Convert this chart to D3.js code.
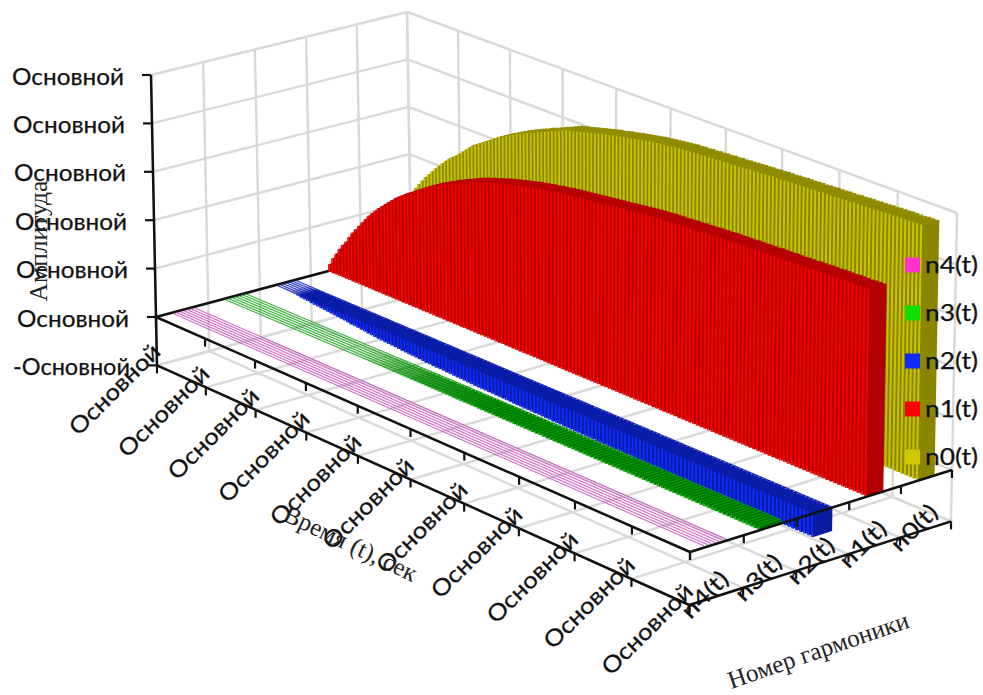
<!DOCTYPE html>
<html><head><meta charset="utf-8">
<script src="https://cdn.jsdelivr.net/npm/d3@7"></script>
<style>html,body{margin:0;background:#fff}svg{display:block}</style></head>
<body><svg id="c" width="983" height="695"></svg>
<script>
const seriesNames=["n4(t)","n3(t)","n2(t)","n1(t)","n0(t)"];
const seriesDrawOrder=["n0(t)","n1(t)","n2(t)","n3(t)","n4(t)"];
const valueTicks=[-1,0,1,2,3,4,5];
const valueLabels=["-Основной","Основной","Основной","Основной","Основной","Основной","Основной"];
const timeLabels=["Основной","Основной","Основной","Основной","Основной","Основной","Основной","Основной","Основной","Основной","Основной"];
const n0=[.20,.38,.55,.70,.84,.98,1.13,1.28,1.40,1.53,1.65,1.77,1.88,1.98,2.08,2.17,2.26,2.35,2.43,2.51,2.59,2.66,2.72,2.78,2.85,2.92,2.99,3.06,3.13,3.18,3.23,3.28,3.33,3.38,3.43,3.48,3.53,3.57,3.61,3.65,3.69,3.73,3.77,3.80,3.84,3.87,3.90,3.94,3.97,4.00,4.03,4.07,4.10,4.13,4.17,4.20,4.22,4.24,4.26,4.28,4.30,4.32,4.34,4.36,4.38,4.40,4.42,4.43,4.45,4.47,4.48,4.50,4.52,4.53,4.55,4.56,4.58,4.59,4.61,4.62,4.63,4.64,4.65,4.66,4.67,4.68,4.69,4.70,4.70,4.71,4.71,4.72,4.72,4.73,4.73,4.74,4.74,4.75,4.75,4.76,4.76,4.77,4.77,4.78,4.78,4.79,4.79,4.80,4.80,4.81,4.81,4.82,4.82,4.82,4.83,4.83,4.84,4.84,4.84,4.85,4.85,4.85,4.86,4.86,4.87,4.87,4.87,4.88,4.88,4.88,4.89,4.89,4.90,4.90,4.90,4.91,4.91,4.91,4.92,4.92,4.93,4.93,4.93,4.94,4.94,4.94,4.94,4.95,4.95,4.95];
const n1=[.15,.30,.42,.55,.66,.76,.88,1.00,1.10,1.20,1.30,1.40,1.50,1.58,1.66,1.74,1.81,1.88,1.95,2.02,2.09,2.15,2.20,2.26,2.31,2.36,2.41,2.46,2.51,2.56,2.61,2.65,2.69,2.73,2.77,2.81,2.84,2.88,2.91,2.95,2.98,3.02,3.05,3.08,3.10,3.13,3.15,3.18,3.20,3.23,3.25,3.27,3.29,3.31,3.33,3.35,3.37,3.39,3.41,3.42,3.44,3.45,3.47,3.48,3.50,3.51,3.52,3.54,3.55,3.56,3.57,3.58,3.59,3.60,3.61,3.62,3.63,3.64,3.65,3.66,3.67,3.68,3.69,3.70,3.71,3.72,3.73,3.74,3.75,3.76,3.77,3.78,3.79,3.79,3.80,3.81,3.81,3.82,3.82,3.83,3.83,3.84,3.84,3.85,3.85,3.86,3.86,3.87,3.87,3.88,3.88,3.89,3.89,3.89,3.90,3.90,3.90,3.91,3.91,3.91,3.92,3.92,3.92,3.93,3.93,3.93,3.93,3.94,3.94,3.94,3.95,3.95,3.95,3.96,3.96,3.96,3.97,3.97,3.97,3.98,3.98,3.98,3.98,3.99,3.99,3.99,3.99,4.00,4.00,4.00];
const n2=[-.005,-.01,-.015,-.02,-.025,-.03,-.04,-.05,-.055,-.06,-.07,-.08,-.085,-.09,-.10,-.105,-.11,-.12,-.125,-.13,-.14,-.15,-.16,-.165,-.17,-.18,-.19,-.20,-.205,-.21,-.22,-.225,-.23,-.235,-.24,-.245,-.25,-.255,-.26,-.265,-.27,-.275,-.28,-.285,-.29,-.29,-.295,-.30,-.30,-.305,-.31,-.31,-.315,-.32,-.32,-.325,-.33,-.33,-.335,-.34,-.34,-.34,-.345,-.345,-.35,-.35,-.35,-.355,-.355,-.36,-.36,-.36,-.365,-.365,-.37,-.37,-.37,-.375,-.375,-.375,-.38,-.38,-.38,-.385,-.385,-.385,-.39,-.39,-.39,-.395,-.395,-.395,-.40,-.40,-.40,-.40,-.405,-.405,-.405,-.41,-.41,-.41,-.41,-.415,-.415,-.42,-.42,-.42,-.42,-.42,-.425,-.425,-.425,-.43,-.43,-.43,-.43,-.43,-.435,-.435,-.435,-.435,-.44,-.44,-.44,-.44,-.44,-.445,-.445,-.445,-.445,-.45,-.45,-.45,-.45,-.45,-.45,-.455,-.455,-.455,-.455,-.455,-.46,-.46,-.46,-.46,-.46,-.46,-.46,-.46];
const n3=[.002,.002,.003,.003,.004,.004,.005,.005,.006,.006,.007,.007,.008,.008,.009,.009,.010,.010,.011,.011,.012,.012,.013,.013,.014,.014,.015,.015,.016,.016,.017,.017,.018,.018,.019,.019,.020,.020,.021,.021,.022,.023,.024,.025,.026,.027,.028,.029,.030,.031,.032,.033,.034,.035,.036,.037,.038,.039,.040,.040,.041,.041,.042,.042,.043,.043,.044,.044,.045,.045,.046,.046,.047,.047,.048,.048,.049,.049,.050,.050,.050,.051,.051,.051,.052,.052,.052,.053,.053,.053,.054,.054,.054,.055,.055,.055,.055,.056,.056,.056,.056,.057,.057,.057,.057,.058,.058,.058,.058,.059,.059,.059,.059,.060,.060,.060,.060,.061,.061,.061,.061,.062,.062,.062,.062,.063,.063,.063,.063,.064,.064,.064,.064,.065,.065,.065,.065,.066,.066,.066,.066,.067,.067,.067,.067,.068,.068,.069,.069,.070];
const n4=[.001,.001,.001,.001,.001,.001,.001,.001,.001,.001,.001,.001,.001,.001,.001,.001,.001,.001,.001,.001,.002,.002,.002,.002,.002,.002,.002,.002,.002,.002,.002,.002,.002,.002,.002,.002,.002,.002,.002,.002,.002,.002,.002,.002,.002,.002,.002,.002,.002,.002,.003,.003,.003,.003,.003,.003,.003,.003,.003,.003,.003,.003,.003,.003,.003,.003,.003,.003,.003,.003,.003,.003,.003,.003,.003,.003,.003,.003,.003,.003,.004,.004,.004,.004,.004,.004,.004,.004,.004,.004,.004,.004,.004,.004,.004,.004,.004,.004,.004,.004,.004,.004,.004,.004,.004,.004,.004,.004,.004,.004,.005,.005,.005,.005,.005,.005,.005,.005,.005,.005,.005,.005,.005,.005,.005,.005,.005,.005,.005,.005,.005,.005,.005,.005,.005,.005,.005,.005,.005,.005,.005,.005,.005,.005,.005,.005,.005,.005,.005,.005];
const seriesValues={"n0(t)":n0,"n1(t)":n1,"n2(t)":n2,"n3(t)":n3,"n4(t)":n4};
const seriesDepth={"n0(t)":.066,"n1(t)":.066,"n2(t)":.074,"n3(t)":.082,"n4(t)":.082};
const stripeStyle={"n2(t)":["#2030c8",1.1],"n3(t)":["#10a010",1.0],"n4(t)":["#c030b0",.9]};
const faceColors={
 "n0(t)":{front:"#cac300",side:"#8a8600",top:"#969000",key:"#d0c800"},
 "n1(t)":{front:"#f80000",side:"#b00000",top:"#bb0000",key:"#ff0000"},
 "n2(t)":{front:"#0f2bff",side:"#0a1ca0",top:"#0a1eb0",key:"#0f2bff"},
 "n3(t)":{front:"#00b000",side:"#007000",top:"#009a00",key:"#0de000"},
 "n4(t)":{front:"#e040c8",side:"#a02c90",top:"#d060c0",key:"#ff33cc"}};

/* projection geometry: corners of the zero plane and the top plane, indexed (time,series) */
const floorQuad=[[156,317],[690,552],[952,470],[411,249]];
const topQuad=[[151,75],[693,287],[957,213],[407,12]];
function quadMap(q){
 const [[x0,y0],[x1,y1],[x2,y2],[x3,y3]]=q;
 const dx1=x1-x2,dx2=x3-x2,sx=x0-x1+x2-x3,dy1=y1-y2,dy2=y3-y2,sy=y0-y1+y2-y3;
 const det=dx1*dy2-dx2*dy1,g=(sx*dy2-dx2*sy)/det,h=(dx1*sy-sx*dy1)/det;
 const a=x1-x0+g*x1,b=x3-x0+h*x3,d=y1-y0+g*y1,e=y3-y0+h*y3;
 return (u,v)=>{const w=g*u+h*v+1;return [(a*u+b*v+x0)/w,(d*u+e*v+y0)/w];};
}
const floorMap=quadMap(floorQuad),topMap=quadMap(topQuad);
const zScale=d3.scaleLinear().domain([0,5]).range([0,1]);
function P(t,s,z){const a=floorMap(t,s),b=topMap(t,s),k=zScale(z);return [a[0]+(b[0]-a[0])*k,a[1]+(b[1]-a[1])*k];}

const barIndex=d3.range(n0.length);
const tBand=d3.scaleBand().domain(barIndex).range([0,1]).paddingInner(.5).paddingOuter(.1);
const tStep=d3.scaleBand().domain(barIndex).range([0,1]);
const sBand=d3.scaleBand().domain(seriesNames).range([0,1]);
const sTick=d3.scaleLinear().domain([0,seriesNames.length]).range([0,1]);
const tTick=d3.scaleLinear().domain([0,timeLabels.length-1]).range([0,1]);
const topOpacity=d3.scaleLinear().domain([.02,.05]).range([.1,1]).clamp(true);

const svg=d3.select("#c");
const line=d3.line();
const ink="#111";
const grid=svg.append("g").attr("fill","none").attr("stroke","#d9d9d9").attr("stroke-width",2.4);
function seg(g,a,b,st,w){g.append("path").attr("d",line([a,b])).attr("fill","none").attr("stroke",st||null).attr("stroke-width",w||null);}
valueTicks.forEach(z=>{seg(grid,P(0,0,z),P(0,1,z));seg(grid,P(0,1,z),P(1,1,z));});
d3.range(seriesNames.length+1).forEach(i=>{const s=sTick(i);seg(grid,P(0,s,-1),P(0,s,5));seg(grid,P(0,s,-1),P(1,s,-1));});
d3.range(timeLabels.length).forEach(i=>{const t=tTick(i);seg(grid,P(t,1,-1),P(t,1,5));seg(grid,P(t,0,-1),P(t,1,-1));});

const axes0=svg.append("g");
seg(axes0,P(0,0,0),P(0,1,0),ink,2.5);

const marks=svg.append("g");
seriesDrawOrder.forEach(name=>{
 const vals=seriesValues[name],c=faceColors[name],sc=sBand(name)+sBand.bandwidth()/2,depth=seriesDepth[name];
 const s0=sc-depth/2,s1=sc+depth/2,g=marks.append("g");
 if(stripeStyle[name]){
  const sOff=d3.scaleLinear().domain([0,6]).range([s0,s1]);
  d3.range(7).forEach(k=>{
   const pts=barIndex.map(i=>P(tStep(i)+tStep.bandwidth()/2,sOff(k),Math.max(0,vals[i])));
   g.append("path").attr("d",line(pts)).attr("fill","none").attr("stroke",stripeStyle[name][0]).attr("stroke-width",stripeStyle[name][1]).attr("stroke-opacity",.9);
  });
 }
 barIndex.forEach(i=>{
  const v=vals[i],hi=Math.max(0,v),lo=Math.min(0,v),t0=tBand(i),t1=t0+tBand.bandwidth(),tEnd=tStep(i)+tStep.bandwidth();
  const op=topOpacity(Math.abs(v));
  g.append("path").attr("fill",c.top).attr("fill-opacity",op)
   .attr("d",line([P(t0,s0,hi),P(tEnd,s0,hi),P(tEnd,s1,hi),P(t0,s1,hi)])+"Z");
  g.append("path").attr("fill",c.side).attr("fill-opacity",op)
   .attr("d",line([P(t1,s0,lo),P(t1,s1,lo),P(t1,s1,hi),P(t1,s0,hi)])+"Z");
  g.append("path").attr("fill",c.front).attr("fill-opacity",op)
   .attr("d",line([P(t0,s0,lo),P(t1,s0,lo),P(t1,s0,hi),P(t0,s0,hi)])+"Z");
 });
});

const axes=svg.append("g");
seg(axes,P(0,0,5),P(0,0,-1),ink,2.5);
seg(axes,P(0,0,0),P(1,0,0),ink,2.5);
seg(axes,P(1,0,0),P(1,1,0),ink,2.5);
seg(axes,P(0,0,-1),P(1,0,-1),ink,2.5);
seg(axes,P(1,0,-1),P(1,1,-1),ink,2.5);
valueTicks.forEach(z=>{const p=P(0,0,z);seg(axes,[p[0]-9,p[1]],p,ink,2.2);});
d3.range(timeLabels.length).forEach(i=>{[0,-1].forEach(z=>{const p=P(tTick(i),0,z);seg(axes,p,[p[0],p[1]+8],ink,2.2);});});
d3.range(seriesNames.length+1).forEach(i=>{[0,-1].forEach(z=>{const p=P(1,sTick(i),z);seg(axes,p,[p[0],p[1]+8],ink,2.2);});});

const sans="Lato,'Open Sans',sans-serif",serif="'Liberation Serif',serif";
const labels=svg.append("g").attr("font-family",sans).attr("fill","#111").attr("stroke","#111").attr("stroke-width",.25);
valueTicks.forEach((z,i)=>{const p=P(0,0,z);
 labels.append("text").attr("x",p[0]-27).attr("y",p[1]+9.5).attr("text-anchor","end").attr("font-size",23).attr("textLength",valueLabels[i].length>8?117:112).attr("lengthAdjust","spacingAndGlyphs").text(valueLabels[i]);});
timeLabels.forEach((l,i)=>{const p=P(tTick(i),0,-1);
 labels.append("text").attr("transform",`translate(${p[0]+5},${p[1]-12}) rotate(-45)`).attr("text-anchor","end").attr("font-size",23).attr("textLength",118).attr("lengthAdjust","spacingAndGlyphs").text(l);});
seriesNames.forEach(n=>{const p=P(1,sBand(n)+sBand.bandwidth()/2,-1);
 labels.append("text").attr("transform",`translate(${p[0]-6},${p[1]+4}) rotate(-45)`).attr("text-anchor","middle").attr("font-size",23).attr("textLength",56).attr("lengthAdjust","spacingAndGlyphs").text(n);});

const legendY=d3.scalePoint().domain(seriesNames).range([265,457]);
seriesNames.forEach(n=>{
 const y=legendY(n);
 svg.append("rect").attr("x",905).attr("y",y-7.5).attr("width",15).attr("height",15).attr("fill",faceColors[n].key);
 svg.append("text").attr("x",925).attr("y",y+7.5).attr("font-family",sans).attr("font-size",23).attr("fill","#111").attr("stroke","#111").attr("stroke-width",.25).attr("textLength",53).attr("lengthAdjust","spacingAndGlyphs").text(n);
});

const titles=svg.append("g").attr("font-family",serif).attr("fill","#222").attr("text-anchor","middle");
titles.append("text").attr("font-size",25.5).attr("transform","translate(47,241) rotate(-90)").text("Амплитуда");
titles.append("text").attr("font-size",25).attr("transform","translate(347,551) rotate(25.5)").text("Время (t), сек");
titles.append("text").attr("font-size",25).attr("transform","translate(821,658) rotate(-19)").text("Номер гармоники");
</script></body></html>
